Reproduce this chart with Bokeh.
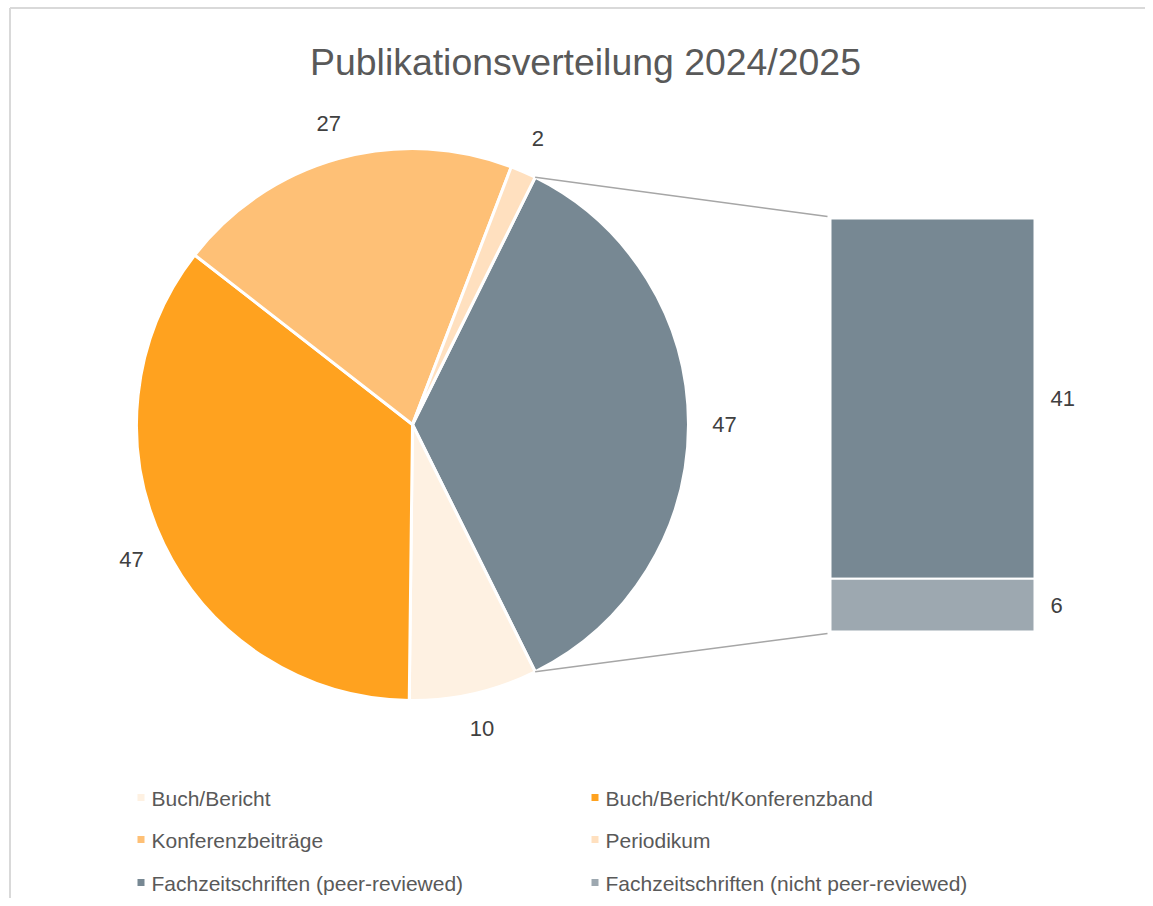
import math
from bokeh.plotting import figure
from bokeh.models import Range1d, ColumnDataSource
from bokeh.core.properties import value
from bokeh.embed import file_html
from bokeh.resources import INLINE

# ---- data ----
title_text = "Publikationsverteilung 2024/2025"
pie_categories = ["Buch/Bericht", "Buch/Bericht/Konferenzband", "Konferenzbeiträge", "Periodikum"]
pie_values = [10, 47, 27, 2]
pie_colors = ["#FEF1E2", "#FFA21F", "#FEC076", "#FFE0BF"]
other_categories = ["Fachzeitschriften (peer-reviewed)", "Fachzeitschriften (nicht peer-reviewed)"]
other_values = [41, 6]
other_colors = ["#778893", "#9DA8B0"]

# ---- layout (screen-like coordinates: x right, y = -screen_y) ----
W, H = 1145, 898
FONT = "Liberation Sans"
p = figure(width=W, height=H, x_range=Range1d(0, W), y_range=Range1d(-H, 0),
           output_backend="svg", toolbar_location=None, min_border=0,
           background_fill_color="white", border_fill_color="white")
p.axis.visible = False
p.grid.visible = False
p.outline_line_color = None

# chart border (left and top visible)
p.segment(x0=[9.5, 9.5], y0=[-H, -7.5], x1=[9.5, W], y1=[-7.5, -7.5],
          line_color="#D9D9D9", line_width=2)

# title
p.text(x=[585], y=[-61], text=[title_text], text_font=value(FONT), text_font_size="37.4px",
       text_color="#595959", text_align="center", text_baseline="alphabetic")

cx, cy, R = 412, -424, 276
total = sum(pie_values) + sum(other_values)
other_sum = sum(other_values)
a = other_sum / total * 2 * math.pi

starts, ends, cols, mids, labels = [], [], [], [], []
# combined "other" slice centred on the right side
starts.append(-a / 2); ends.append(a / 2); cols.append(other_colors[0]); mids.append(0.0); labels.append(str(other_sum))
cur = -a / 2
for v, c in zip(pie_values, pie_colors):
    s = cur - v / total * 2 * math.pi
    starts.append(s); ends.append(cur); cols.append(c); mids.append((s + cur) / 2); labels.append(str(v))
    cur = s

src = ColumnDataSource(dict(start=starts, end=ends, color=cols))
p.wedge(x=cx, y=cy, radius=R, start_angle="start", end_angle="end", direction="anticlock",
        fill_color="color", line_color="white", line_width=3, source=src)

LR = R + 36
p.text(x=[cx + LR * math.cos(m) for m in mids], y=[cy + LR * math.sin(m) for m in mids], text=labels,
       text_font=value(FONT), text_font_size="22px", text_color="#404040",
       text_align="center", text_baseline="middle")

# bar of the "other" slice
bl, br, btop, bbot = 830, 1034, -218, -631
unit = (btop - bbot) / other_sum
tops, bots = [], []
t = btop
for v in other_values:
    tops.append(t); bots.append(t - v * unit); t = t - v * unit
p.quad(left=bl, right=br, top=tops, bottom=bots, fill_color=other_colors, line_color="white", line_width=2)
p.text(x=[1050] * len(other_values), y=[(tt + bb) / 2 for tt, bb in zip(tops, bots)],
       text=[str(v) for v in other_values], text_font=value(FONT), text_font_size="22px",
       text_color="#404040", text_align="left", text_baseline="middle")

# connector lines
p.segment(x0=[cx + R * math.cos(a / 2), cx + R * math.cos(-a / 2)],
          y0=[cy + R * math.sin(a / 2), cy + R * math.sin(-a / 2)],
          x1=[bl - 3, bl - 3], y1=[btop + 2, bbot - 2], line_color="#A6A6A6", line_width=1.5)

# legend
leg_names = [pie_categories[0], pie_categories[1], pie_categories[2], pie_categories[3],
             other_categories[0], other_categories[1]]
leg_colors = [pie_colors[0], pie_colors[1], pie_colors[2], pie_colors[3], other_colors[0], other_colors[1]]
col_x = [140.5, 594.5]
row_y = [-797, -839, -882]
mx, my, tx = [], [], []
for i in range(len(leg_names)):
    r, c = divmod(i, 2)
    mx.append(col_x[c]); my.append(row_y[r]); tx.append(col_x[c] + 10.5)
p.rect(x=mx, y=my, width=7, height=7, fill_color=leg_colors, line_color=None)
p.text(x=tx, y=[y - 0.5 for y in my], text=leg_names, text_font=value(FONT), text_font_size="21px",
       text_color="#595959", text_align="left", text_baseline="middle")

open("out.html", "w").write(file_html(p, INLINE))
